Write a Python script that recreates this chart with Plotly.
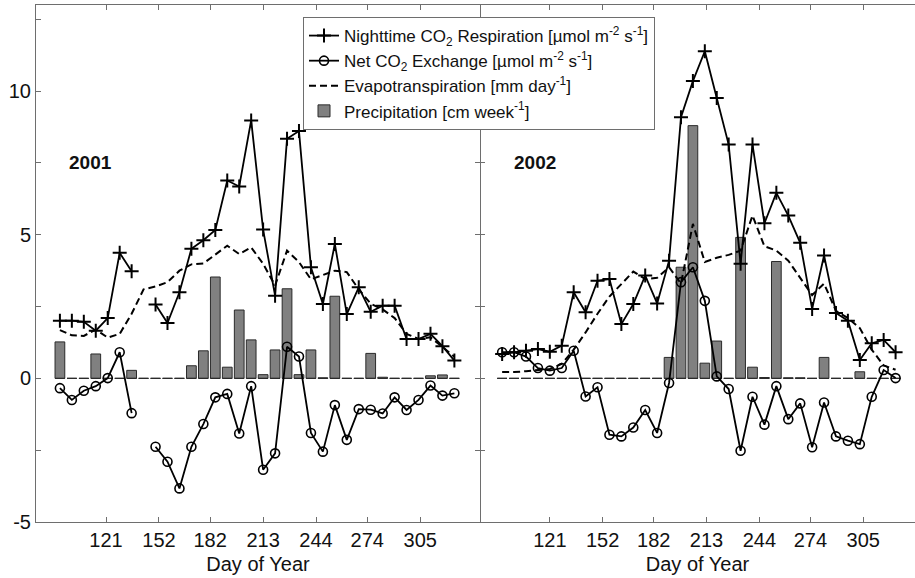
import plotly.graph_objects as go

# ---- 2001 season (weekly) ----
weeks_2001 = [94, 101, 108, 115, 122, 129, 136, 143, 150, 157,
              164, 171, 178, 185, 192, 199, 206, 213, 220, 227,
              234, 241, 248, 255, 262, 269, 276, 283, 290, 297,
              304, 311, 318, 325]
resp_2001 = [2.01, 2.01, 1.97, 1.66, 2.10, 4.37, 3.73, None, 2.57, 1.93,
             3.00, 4.51, 4.81, 5.17, 6.89, 6.68, 8.98, 5.18, 2.88, 8.34,
             8.61, 3.87, 2.59, 4.68, 2.24, 3.17, 2.32, 2.53, 2.53, 1.37,
             1.37, 1.55, 1.12, 0.62]
nee_2001 = [-0.34, -0.75, -0.43, -0.27, 0.01, 0.91, -1.21, None, -2.38, -2.90,
            -3.83, -2.38, -1.59, -0.66, -0.54, -1.92, -0.27, -3.18, -2.61, 1.10,
            0.76, -1.90, -2.55, -0.93, -2.14, -1.07, -1.09, -1.22, -0.66, -1.10,
            -0.75, -0.25, -0.60, -0.52]
et_2001 = [1.68, 1.50, 1.48, 1.70, 1.42, 1.55, 2.25, 3.10, 3.20, 3.35,
           3.75, 3.97, 4.00, 4.30, 4.62, 4.33, 4.56, 3.99, 3.23, 4.45,
           4.05, 3.45, 3.60, 3.75, 3.70, 3.10, 2.60, 2.40, 2.10, 1.55,
           1.37, 1.43, 1.10, 0.75]
precip_2001 = [1.27, 0.0, 0.0, 0.85, 0.0, 0.0, 0.28, 0.0, 0.0, 0.0,
               0.0, 0.44, 0.96, 3.53, 0.39, 2.38, 1.34, 0.13, 0.99, 3.12,
               0.13, 0.99, 0.02, 2.86, 0.0, 0.0, 0.87, 0.04, 0.0, 0.0,
               0.0, 0.09, 0.12, 0.0]

# ---- 2002 season (weekly) ----
weeks_2002 = [93, 100, 107, 114, 121, 128, 135, 142, 149, 156,
              163, 170, 177, 184, 191, 198, 205, 212, 219, 226,
              233, 240, 247, 254, 261, 268, 275, 282, 289, 296,
              303, 310, 317, 324]
resp_2002 = [0.85, 0.91, 0.96, 1.02, 0.93, 1.14, 3.00, 2.30, 3.40, 3.46,
             1.89, 2.59, 3.58, 2.61, 4.10, 9.09, 10.35, 11.39, 9.76, 8.14,
             3.99, 8.14, 5.40, 6.46, 5.67, 4.72, 2.42, 4.28, 2.28, 2.01,
             0.64, 1.22, 1.34, 0.91]
nee_2002 = [0.91, 0.91, 0.76, 0.36, 0.27, 0.36, 0.96, -0.63, -0.31, -1.96,
            -2.02, -1.71, -1.10, -1.90, -0.16, 3.35, 3.87, 2.70, 0.07, -0.37,
            -2.52, -0.64, -1.61, -0.27, -1.42, -0.87, -2.40, -0.84, -2.02, -2.17,
            -2.29, -0.64, 0.29, 0.01]
et_2002 = [0.22, 0.22, 0.25, 0.28, 0.33, 0.50, 1.00, 1.60, 2.25, 2.85,
           3.30, 3.72, 3.46, 3.50, 3.87, 3.30, 5.38, 4.05, 4.20, 4.30,
           4.45, 5.67, 4.60, 4.45, 4.10, 3.50, 2.90, 3.30, 2.35, 2.10,
           1.75, 1.00, 0.45, 0.30]
precip_2002 = [0.0, 0.0, 0.0, 0.0, 0.0, 0.0, 0.0, 0.0, 0.0, 0.0,
               0.0, 0.0, 0.0, 0.0, 0.73, 3.87, 8.80, 0.53, 1.30, 0.0,
               4.91, 0.39, 0.03, 4.07, 0.02, 0.02, 0.0, 0.73, 0.0, 0.0,
               0.23, 0.0, 0.0, 0.0]

month_ticks = [121, 152, 182, 213, 244, 274, 305]
y_ticks = [-5, 0, 5, 10]
y_tick_labels = ["-5", "0", "5", "10"]

LEGEND_RESP = "Nighttime CO<sub>2</sub> Respiration [µmol m<sup>-2</sup> s<sup>-1</sup>]"
LEGEND_NEE = "Net CO<sub>2</sub> Exchange [µmol m<sup>-2</sup> s<sup>-1</sup>]"
LEGEND_ET = "Evapotranspiration [mm day<sup>-1</sup>]"
LEGEND_PRECIP = "Precipitation [cm week<sup>-1</sup>]"

BAR_WIDTH = 5.7
FONT = "Arial, Liberation Sans, Helvetica, sans-serif"
AXIS_GREY = "#6e6e6e"

fig = go.Figure()


def add_panel(weeks, resp, nee, et, precip, xa, ya, show_legend):
    # weekly precipitation bars
    fig.add_trace(go.Bar(
        x=weeks, y=precip, width=BAR_WIDTH, xaxis=xa, yaxis=ya,
        marker=dict(color="#808080", line=dict(color="#2a2a2a", width=1)),
        name=LEGEND_PRECIP, showlegend=show_legend, legendrank=4,
    ))
    # bar bottoms along the zero level (empty weeks show as short dashes)
    bx, by = [], []
    for d in weeks:
        bx += [d - BAR_WIDTH / 2, d + BAR_WIDTH / 2, None]
        by += [0, 0, None]
    fig.add_trace(go.Scatter(
        x=bx, y=by, mode="lines", xaxis=xa, yaxis=ya,
        line=dict(color="#2a2a2a", width=1.2), showlegend=False,
        hoverinfo="skip",
    ))
    # evapotranspiration
    fig.add_trace(go.Scatter(
        x=weeks, y=et, mode="lines", xaxis=xa, yaxis=ya,
        line=dict(color="black", width=2, dash="7px,4px"),
        name=LEGEND_ET, showlegend=show_legend, legendrank=3,
    ))
    # net CO2 exchange
    fig.add_trace(go.Scatter(
        x=weeks, y=nee, mode="lines+markers", xaxis=xa, yaxis=ya,
        line=dict(color="black", width=1.8),
        marker=dict(symbol="circle-open", size=9, color="black",
                    line=dict(width=1.6, color="black")),
        connectgaps=False,
        name=LEGEND_NEE, showlegend=show_legend, legendrank=2,
    ))
    # nighttime respiration
    fig.add_trace(go.Scatter(
        x=weeks, y=resp, mode="lines+markers", xaxis=xa, yaxis=ya,
        line=dict(color="black", width=1.8),
        marker=dict(symbol="cross-thin-open", size=10, color="black",
                    line=dict(width=2, color="black")),
        connectgaps=False,
        name=LEGEND_RESP, showlegend=show_legend, legendrank=1,
    ))


add_panel(weeks_2001, resp_2001, nee_2001, et_2001, precip_2001, "x", "y", True)
add_panel(weeks_2002, resp_2002, nee_2002, et_2002, precip_2002, "x2", "y2", False)

split = (480 - 36) / (915 - 36)

xaxis_common = dict(
    tickmode="array", tickvals=month_ticks, ticks="inside", ticklen=5,
    tickcolor=AXIS_GREY, showline=True, linecolor=AXIS_GREY, linewidth=1,
    mirror="ticks", showgrid=False, zeroline=False,
    tickfont=dict(size=20, color="#111", family=FONT),
    title=dict(text="Day of Year", font=dict(size=20, color="#111", family=FONT),
               standoff=6),
)
yaxis_common = dict(
    range=[-5, 13], tickmode="array", tickvals=y_ticks, ticktext=y_tick_labels,
    ticks="inside", ticklen=5, tickcolor=AXIS_GREY, linecolor=AXIS_GREY,
    linewidth=1, showgrid=False, zeroline=False,
    minor=dict(dtick=2.5, tick0=0, ticks="inside", ticklen=5,
               tickcolor=AXIS_GREY, showgrid=False),
    tickfont=dict(size=20, color="#111", family=FONT),
)

fig.update_layout(
    width=915, height=578,
    margin=dict(l=36, r=0, t=5, b=56),
    paper_bgcolor="white", plot_bgcolor="white",
    font=dict(family=FONT, color="#111"),
    barmode="overlay",
    xaxis=dict(domain=[0, split], range=[80, 340], **xaxis_common),
    xaxis2=dict(domain=[split, 1], range=[80, 335.4], **xaxis_common),
    yaxis=dict(anchor="x", showline=True, mirror="ticks", **yaxis_common),
    yaxis2=dict(anchor="x2", showline=False, showticklabels=False,
                mirror=False, **yaxis_common),
    legend=dict(
        x=(303 - 36) / (915 - 36), y=(521 - 17) / 516,
        xanchor="left", yanchor="top",
        bgcolor="white", bordercolor=AXIS_GREY, borderwidth=1,
        font=dict(size=17, family=FONT, color="#111"),
        itemwidth=30, tracegroupgap=0,
    ),
    annotations=[
        dict(x=112, y=7.5, xref="x", yref="y", text="<b>2001</b>",
             showarrow=False, font=dict(size=19, family=FONT, color="#111")),
        dict(x=112, y=7.5, xref="x2", yref="y2", text="<b>2002</b>",
             showarrow=False, font=dict(size=19, family=FONT, color="#111")),
    ],
)

fig.write_html("out.html")
